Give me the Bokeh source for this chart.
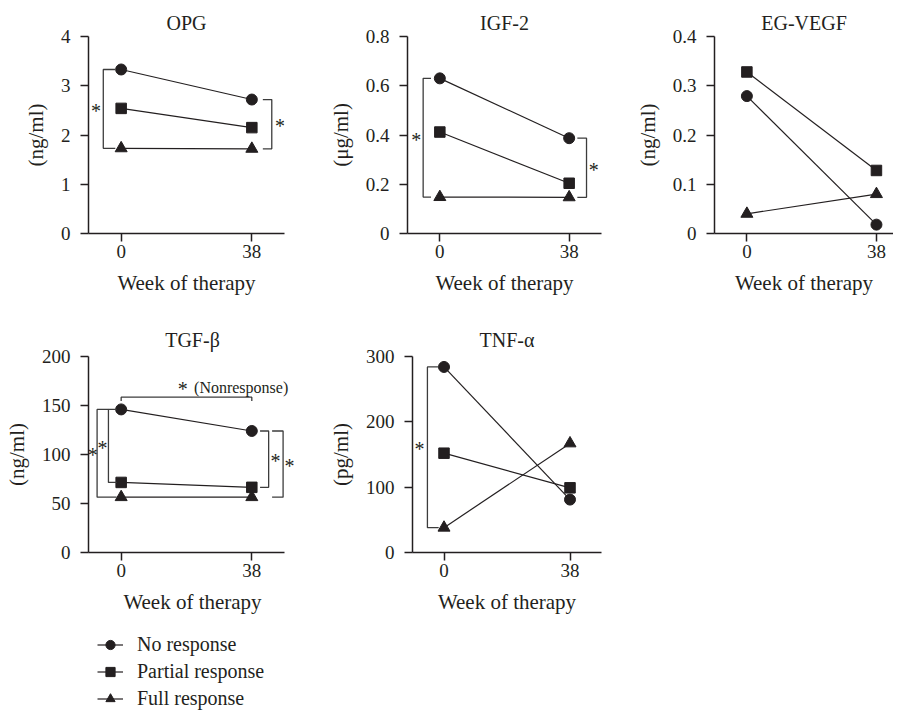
from bokeh.plotting import figure
from bokeh.models import Range1d, FixedTicker, NumeralTickFormatter, Label, Legend, LegendItem
from bokeh.layouts import row, column
from bokeh.embed import file_html
from bokeh.resources import INLINE

# ---------------- data ----------------
weeks = [0, 38]
week_ticks = [0, 38]
series_names = ["No response", "Partial response", "Full response"]
series_markers = ["circle", "square", "triangle"]

opg_no = [3.33, 2.72]
opg_partial = [2.54, 2.15]
opg_full = [1.73, 1.72]
opg_ticks = [0, 1, 2, 3, 4]

igf_no = [0.63, 0.387]
igf_partial = [0.412, 0.204]
igf_full = [0.148, 0.147]
igf_ticks = [0, 0.2, 0.4, 0.6, 0.8]

vegf_no = [0.279, 0.018]
vegf_partial = [0.328, 0.128]
vegf_full = [0.040, 0.080]
vegf_ticks = [0, 0.1, 0.2, 0.3, 0.4]

tgf_no = [146, 124]
tgf_partial = [71.5, 66.5]
tgf_full = [56.5, 56.5]
tgf_ticks = [0, 50, 100, 150, 200]

tnf_no = [284, 81]
tnf_partial = [152, 99]
tnf_full = [38, 167]
tnf_ticks = [0, 100, 200, 300]

FONT = "Liberation Serif"
INK = "#231f20"
BR = "#3c3c3c"
X_START = -9.5
MARKER_SIZE = {"circle": 11, "square": 10.5, "triangle": 12}


def make_panel(title, ylabel, series, y_end, y_ticks, x_axis_end, x_view_end,
               width, height, bl, br, bt, bb, title_standoff):
    p = figure(width=width, height=height,
               x_range=Range1d(X_START, x_view_end), y_range=Range1d(0, y_end),
               output_backend="svg", toolbar_location=None,
               min_border_left=bl, min_border_right=br,
               min_border_top=bt, min_border_bottom=bb, title=title)
    p.outline_line_color = None
    p.grid.visible = False
    p.background_fill_color = "white"
    p.border_fill_color = "white"
    p.title.align = "center"
    p.title.text_font = FONT
    p.title.text_font_size = "20px"
    p.title.text_font_style = "normal"
    p.title.text_color = INK
    p.title.standoff = title_standoff
    for ax in (p.xaxis[0], p.yaxis[0]):
        ax.axis_line_color = INK
        ax.axis_line_width = 1.5
        ax.major_tick_line_color = INK
        ax.major_tick_line_width = 1.5
        ax.major_tick_out = 8
        ax.major_tick_in = 0
        ax.minor_tick_line_color = None
        ax.major_label_text_font = FONT
        ax.major_label_text_font_size = "19px"
        ax.major_label_text_color = INK
        ax.axis_label_text_font = FONT
        ax.axis_label_text_font_size = "21px"
        ax.axis_label_text_font_style = "normal"
        ax.axis_label_text_color = INK
    p.xaxis.ticker = FixedTicker(ticks=week_ticks)
    p.xaxis.bounds = (X_START, x_axis_end)
    p.xaxis.axis_label = "Week of therapy"
    p.xaxis.major_label_standoff = 3
    p.xaxis.axis_label_standoff = 10
    p.yaxis.ticker = FixedTicker(ticks=y_ticks)
    p.yaxis.formatter = NumeralTickFormatter(format="0.[0]")
    p.yaxis.axis_label = ylabel
    p.yaxis.major_label_standoff = 10
    p.yaxis.axis_label_standoff = 10
    for vals, m in zip(series, series_markers):
        p.line(weeks, vals, line_color=INK, line_width=1.2)
        p.scatter(weeks, vals, marker=m, size=MARKER_SIZE[m], fill_color=INK, line_color=INK)
    return p


def bracket(p, x_vert, x_arm_top, x_arm_bot, y_top, y_bot):
    p.line([x_arm_top, x_vert, x_vert, x_arm_bot], [y_top, y_top, y_bot, y_bot],
           line_color=BR, line_width=1.3)


def star(p, x, y, size="20px"):
    p.add_layout(Label(x=x, y=y, text="*", text_font=FONT, text_font_size=size,
                       text_color=INK, text_align="center", text_baseline="middle",
                       y_offset=-2))


def mid(a, b):
    return (a + b) / 2.0


# ---------------- top row ----------------
f1 = make_panel("OPG", "(ng/ml)", [opg_no, opg_partial, opg_full], 4, opg_ticks, 47.5, 47.5,
                325, 318, 88, 41, 36, 85, 6)
bracket(f1, -5.2, -1.7, -1.7, opg_no[0], opg_full[0])
star(f1, -7.3, mid(opg_no[0], opg_full[0]))
bracket(f1, 43.8, 41.2, 41.2, opg_no[1], opg_full[1])
star(f1, 46.2, mid(opg_no[1], opg_full[1]))

f2 = make_panel("IGF-2", "(μg/ml)", [igf_no, igf_partial, igf_full], 0.8, igf_ticks, 47.5, 47.5,
                307, 318, 80, 31, 36, 85, 6)
bracket(f2, -4.9, -2.6, -2.6, igf_no[0], igf_full[0])
star(f2, -6.9, mid(igf_no[0], igf_full[0]))
bracket(f2, 43.1, 40.4, 40.4, igf_no[1], igf_full[1])
star(f2, 45.2, mid(igf_no[1], igf_full[1]))

f3 = make_panel("EG-VEGF", "(ng/ml)", [vegf_no, vegf_partial, vegf_full], 0.4, vegf_ticks, 43.0, 43.0,
                261, 318, 80, 0, 36, 85, 6)

# ---------------- bottom row ----------------
f4 = make_panel("TGF-β", "(ng/ml)", [tgf_no, tgf_partial, tgf_full], 200, tgf_ticks, 47.5, 51.0,
                325, 302, 88, 29, 38, 68, 11)
# top bracket (nonresponse, week 0 vs 38)
top_y = tgf_no[0] + 12.5
f4.line([weeks[0], weeks[0], weeks[1], weeks[1]], [top_y - 4, top_y, top_y, top_y - 4],
        line_color=BR, line_width=1.3)
star(f4, 17.9, top_y + 10.2)
f4.add_layout(Label(x=21.2, y=top_y + 10.2, text="(Nonresponse)", text_font=FONT,
                    text_font_size="16px", text_color=INK, text_align="left",
                    text_baseline="middle"))
# left brackets at week 0
bracket(f4, -7.0, -3.7, -1.3, tgf_no[0], tgf_full[0])
star(f4, -8.3, mid(tgf_no[0], tgf_full[0]))
bracket(f4, -3.7, -1.3, -1.3, tgf_no[0], tgf_partial[0])
star(f4, -5.4, mid(tgf_no[0], tgf_partial[0]))
# right brackets at week 38
bracket(f4, 42.9, 40.4, 40.4, tgf_no[1], tgf_partial[1])
star(f4, 44.9, mid(tgf_no[1], tgf_partial[1]))
bracket(f4, 47.1, 43.9, 43.9, tgf_no[1], tgf_full[1])
star(f4, 49.0, mid(tgf_no[1], tgf_full[1]))

f5 = make_panel("TNF-α", "(pg/ml)", [tnf_no, tnf_partial, tnf_full], 300, tnf_ticks, 47.5, 47.5,
                307, 302, 80, 31, 38, 68, 11)
bracket(f5, -5.0, -1.6, -1.6, tnf_no[0], tnf_full[0])
star(f5, -7.4, mid(tnf_no[0], tnf_full[0]))

# ---------------- legend (own canvas; its series lie outside the view) ----------------
fl = figure(width=340, height=92, x_range=Range1d(0, 1), y_range=Range1d(1000, 1001),
            output_backend="svg", toolbar_location=None,
            x_axis_type=None, y_axis_type=None,
            min_border_left=0, min_border_right=0, min_border_top=0, min_border_bottom=0)
fl.outline_line_color = None
fl.grid.visible = False
items = []
for name, vals, m in zip(series_names, [tgf_no, tgf_partial, tgf_full], series_markers):
    lr = fl.line(weeks, vals, line_color=INK, line_width=1.2)
    sr = fl.scatter(weeks, vals, marker=m, size=MARKER_SIZE[m], fill_color=INK, line_color=INK)
    items.append(LegendItem(label=name, renderers=[lr, sr]))
legend = Legend(items=items, location=(97, 2), orientation="vertical",
                padding=0, margin=0, spacing=4,
                glyph_width=26, glyph_height=23, label_height=23,
                label_standoff=14, label_text_font=FONT, label_text_font_size="20px",
                label_text_color=INK, border_line_color=None,
                background_fill_alpha=0)
fl.add_layout(legend, "center")

layout = column(row(f1, f2, f3), row(f4, f5), fl)
open("out.html", "w").write(file_html(layout, INLINE))
